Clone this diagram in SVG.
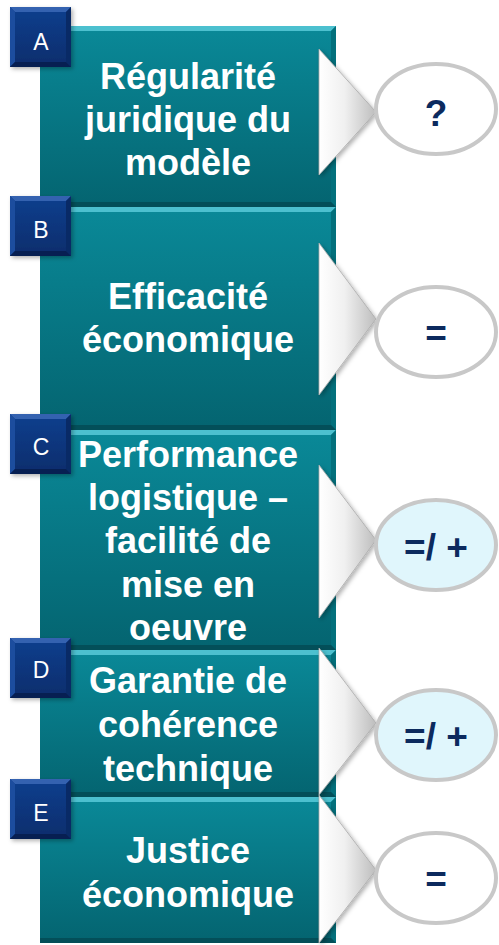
<svg xmlns="http://www.w3.org/2000/svg" width="499" height="945" viewBox="0 0 499 945">
<defs>
<linearGradient id="gBox" x1="0" y1="0" x2="0" y2="1">
<stop offset="0" stop-color="#0a8998"/>
<stop offset="1" stop-color="#046470"/>
</linearGradient>
<linearGradient id="gSq" x1="0" y1="0" x2="0" y2="1">
<stop offset="0" stop-color="#0f3f8e"/>
<stop offset="1" stop-color="#0a2d6c"/>
</linearGradient>
<linearGradient id="gChev" x1="0" y1="0" x2="1" y2="0">
<stop offset="0" stop-color="#ffffff"/>
<stop offset="0.45" stop-color="#f0f0f0"/>
<stop offset="1" stop-color="#bdbdbd"/>
</linearGradient>
<filter id="sh" x="-20%" y="-20%" width="150%" height="150%">
<feDropShadow dx="2" dy="2" stdDeviation="2" flood-color="#000" flood-opacity="0.3"/>
</filter>
</defs>
<style>
.box{fill:url(#gBox);}
.bt{fill:#4cc0cf;}
.bb{fill:#034f59;}
.br{fill:#03707c;}
.sq{fill:url(#gSq);filter:url(#sh);}
.sqt{fill:#3462b0;}
.sqb{fill:#071f52;}
.sql{fill:#1c4d9e;}
.sqr{fill:#092a66;}
.lt{font-family:"Liberation Sans",Arial,sans-serif;font-size:23px;fill:#ffffff;text-anchor:middle;}
.tx{font-family:"Liberation Sans",Arial,sans-serif;font-size:36px;font-weight:bold;fill:#ffffff;text-anchor:middle;}
.chev{fill:url(#gChev);stroke:#a9a9a9;stroke-width:0.8;filter:url(#sh);}
.ell{fill:#ffffff;stroke:#c8c8c8;stroke-width:4;}
.ell2{fill:#e0f6fc;stroke:#c8c8c8;stroke-width:4;}
.et{font-family:"Liberation Sans",Arial,sans-serif;font-size:37px;font-weight:bold;fill:#0c2a5e;text-anchor:middle;}
</style>
<rect width="499" height="945" fill="#ffffff"/>

<g id="box-a">
<rect class="box" x="40" y="26" width="296" height="181"/>
<polygon class="bt" points="40,26 336,26 331,31 40,31"/>
<polygon class="br" points="336,26 336,207 331,202 331,31"/>
<polygon class="bb" points="40,202 331,202 336,207 40,207"/>
<text class="tx" x="188" y="89">Régularité</text>
<text class="tx" x="188" y="132">juridique du</text>
<text class="tx" x="188" y="175">modèle</text>
</g>
<g id="box-b">
<rect class="box" x="40" y="207" width="296" height="223"/>
<polygon class="bt" points="40,207 336,207 331,212 40,212"/>
<polygon class="br" points="336,207 336,430 331,425 331,212"/>
<polygon class="bb" points="40,425 331,425 336,430 40,430"/>
<text class="tx" x="188" y="309">Efficacité</text>
<text class="tx" x="188" y="352">économique</text>
</g>
<g id="box-c">
<rect class="box" x="40" y="430" width="296" height="220"/>
<polygon class="bt" points="40,430 336,430 331,435 40,435"/>
<polygon class="br" points="336,430 336,650 331,645 331,435"/>
<polygon class="bb" points="40,645 331,645 336,650 40,650"/>
<text class="tx" x="188" y="467">Performance</text>
<text class="tx" x="188" y="510">logistique –</text>
<text class="tx" x="188" y="553">facilité de</text>
<text class="tx" x="188" y="597">mise en</text>
<text class="tx" x="188" y="640">oeuvre</text>
</g>
<g id="box-d">
<rect class="box" x="40" y="650" width="296" height="147"/>
<polygon class="bt" points="40,650 336,650 331,655 40,655"/>
<polygon class="br" points="336,650 336,797 331,792 331,655"/>
<polygon class="bb" points="40,792 331,792 336,797 40,797"/>
<text class="tx" x="188" y="693">Garantie de</text>
<text class="tx" x="188" y="737">cohérence</text>
<text class="tx" x="188" y="781">technique</text>
</g>
<g id="box-e">
<rect class="box" x="40" y="797" width="296" height="146"/>
<polygon class="bt" points="40,797 336,797 331,802 40,802"/>
<polygon class="br" points="336,797 336,943 331,938 331,802"/>
<polygon class="bb" points="40,938 331,938 336,943 40,943"/>
<text class="tx" x="188" y="863">Justice</text>
<text class="tx" x="188" y="907">économique</text>
</g>

<g id="label-a">
<rect class="sq" x="10" y="7" width="61" height="60"/>
<polygon class="sqt" points="10,7 71,7 66,12 15,12"/>
<polygon class="sql" points="10,7 15,12 15,62 10,67"/>
<polygon class="sqr" points="71,7 71,67 66,62 66,12"/>
<polygon class="sqb" points="10,67 15,62 66,62 71,67"/>
<text class="lt" x="41" y="50">A</text>
</g>
<g id="label-b">
<rect class="sq" x="10" y="196" width="61" height="60"/>
<polygon class="sqt" points="10,196 71,196 66,201 15,201"/>
<polygon class="sql" points="10,196 15,201 15,251 10,256"/>
<polygon class="sqr" points="71,196 71,256 66,251 66,201"/>
<polygon class="sqb" points="10,256 15,251 66,251 71,256"/>
<text class="lt" x="41" y="238">B</text>
</g>
<g id="label-c">
<rect class="sq" x="10" y="414" width="61" height="60"/>
<polygon class="sqt" points="10,414 71,414 66,419 15,419"/>
<polygon class="sql" points="10,414 15,419 15,469 10,474"/>
<polygon class="sqr" points="71,414 71,474 66,469 66,419"/>
<polygon class="sqb" points="10,474 15,469 66,469 71,474"/>
<text class="lt" x="41" y="455">C</text>
</g>
<g id="label-d">
<rect class="sq" x="10" y="638" width="61" height="60"/>
<polygon class="sqt" points="10,638 71,638 66,643 15,643"/>
<polygon class="sql" points="10,638 15,643 15,693 10,698"/>
<polygon class="sqr" points="71,638 71,698 66,693 66,643"/>
<polygon class="sqb" points="10,698 15,693 66,693 71,698"/>
<text class="lt" x="41" y="678">D</text>
</g>
<g id="label-e">
<rect class="sq" x="10" y="779" width="61" height="60"/>
<polygon class="sqt" points="10,779 71,779 66,784 15,784"/>
<polygon class="sql" points="10,779 15,784 15,834 10,839"/>
<polygon class="sqr" points="71,779 71,839 66,834 66,784"/>
<polygon class="sqb" points="10,839 15,834 66,834 71,839"/>
<text class="lt" x="41" y="821">E</text>
</g>

<g id="connectors">
<polygon class="chev" points="319,49 376,112 319,175"/>
<polygon class="chev" points="319,243 376,319 319,395"/>
<polygon class="chev" points="319,465 376,540 319,618"/>
<polygon class="chev" points="319,648 376,723 319,795"/>
<polygon class="chev" points="319,795 376,870 319,943"/>
</g>

<g id="result-a">
<ellipse class="ell" cx="436" cy="109" rx="60" ry="45"/>
<text class="et" x="436" y="126">?</text>
</g>
<g id="result-b">
<ellipse class="ell" cx="436" cy="332" rx="60" ry="45"/>
<text class="et" x="436" y="346">=</text>
</g>
<g id="result-c">
<ellipse class="ell2" cx="436" cy="545" rx="60" ry="45"/>
<text class="et" x="436" y="560">=/ +</text>
</g>
<g id="result-d">
<ellipse class="ell2" cx="436" cy="735" rx="60" ry="45"/>
<text class="et" x="436" y="749">=/ +</text>
</g>
<g id="result-e">
<ellipse class="ell" cx="436" cy="878" rx="60" ry="45"/>
<text class="et" x="436" y="892">=</text>
</g>
</svg>
